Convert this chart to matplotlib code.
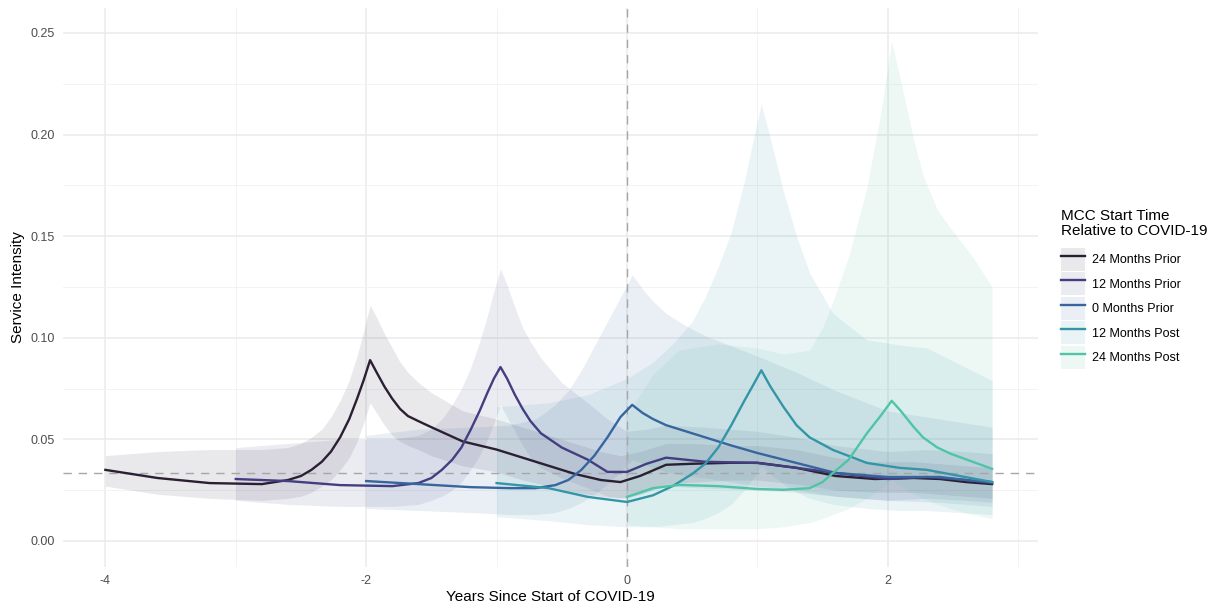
import matplotlib.pyplot as plt
from matplotlib.lines import Line2D
from matplotlib.patches import Patch
import numpy as np

plt.rcParams["font.family"] = ["Liberation Sans", "DejaVu Sans"]
plt.rcParams["axes.unicode_minus"] = False

labels = ["24 Months Prior", "12 Months Prior", "0 Months Prior",
          "12 Months Post", "24 Months Post"]
colors = ["#2b1f33", "#433e80", "#37669e", "#3495a7", "#4fc4a6"]

# 24 Months Prior
x_24pre = [-4.0, -3.6, -3.2, -2.8, -2.6, -2.5, -2.42, -2.34, -2.27, -2.2, -2.13, -2.07, -2.02, -1.97,
           -1.92, -1.86, -1.8, -1.74, -1.68, -1.6, -1.5, -1.26, -1.0, -0.8, -0.6, -0.4, -0.2, -0.05,
           0.1, 0.3, 0.5, 0.8, 1.0, 1.3, 1.6, 1.9, 2.2, 2.4, 2.6, 2.8]
y_24pre = [0.035, 0.031, 0.0285, 0.028, 0.030, 0.032, 0.035, 0.039, 0.044, 0.051, 0.060, 0.070, 0.079, 0.089,
           0.083, 0.076, 0.070, 0.065, 0.0615, 0.059, 0.056, 0.049, 0.045, 0.041, 0.037, 0.033, 0.030, 0.029,
           0.032, 0.0375, 0.038, 0.0385, 0.0385, 0.036, 0.032, 0.0305, 0.031, 0.0305, 0.029, 0.028]
hi_24pre = [0.042, 0.044, 0.045, 0.045, 0.046, 0.048, 0.051, 0.055, 0.061, 0.069, 0.079, 0.091, 0.103, 0.116,
            0.110, 0.102, 0.095, 0.088, 0.083, 0.078, 0.073, 0.064, 0.060, 0.056, 0.052, 0.048, 0.044, 0.042,
            0.044, 0.048, 0.048, 0.047, 0.047, 0.045, 0.041, 0.039, 0.039, 0.038, 0.037, 0.036]
lo_24pre = [0.027, 0.023, 0.021, 0.020, 0.021, 0.022, 0.024, 0.027, 0.030, 0.035, 0.041, 0.049, 0.058, 0.068,
            0.063, 0.057, 0.052, 0.049, 0.047, 0.045, 0.042, 0.037, 0.034, 0.030, 0.027, 0.024, 0.022, 0.021,
            0.023, 0.028, 0.029, 0.030, 0.030, 0.028, 0.025, 0.024, 0.024, 0.023, 0.022, 0.021]

# 12 Months Prior
x_12pre = [-3.0, -2.6, -2.2, -1.8, -1.6, -1.5, -1.42, -1.34, -1.27, -1.2, -1.13, -1.07, -1.02, -0.97,
           -0.92, -0.86, -0.8, -0.74, -0.66, -0.5, -0.3, -0.15, 0.0, 0.15, 0.3, 0.6, 1.0, 1.3, 1.6,
           2.0, 2.3, 2.6, 2.8]
y_12pre = [0.0305, 0.0295, 0.0275, 0.027, 0.0285, 0.031, 0.035, 0.040, 0.046, 0.0546, 0.064, 0.073, 0.080, 0.0856,
           0.080, 0.072, 0.065, 0.059, 0.053, 0.046, 0.040, 0.034, 0.034, 0.038, 0.041, 0.039, 0.0384, 0.036, 0.0335,
           0.0305, 0.0315, 0.030, 0.0285]
hi_12pre = [0.046, 0.048, 0.050, 0.050, 0.052, 0.055, 0.060, 0.067, 0.075, 0.085, 0.098, 0.111, 0.123, 0.134,
            0.126, 0.115, 0.105, 0.098, 0.090, 0.078, 0.068, 0.060, 0.054, 0.055, 0.057, 0.056, 0.054, 0.051, 0.047,
            0.044, 0.045, 0.044, 0.043]
lo_12pre = [0.020, 0.018, 0.017, 0.017, 0.018, 0.020, 0.022, 0.025, 0.029, 0.035, 0.042, 0.050, 0.058, 0.067,
            0.061, 0.054, 0.047, 0.041, 0.036, 0.031, 0.026, 0.022, 0.021, 0.024, 0.027, 0.026, 0.025, 0.024, 0.022,
            0.020, 0.021, 0.020, 0.019]

# 0 Months Prior
x_0pre = [-2.0, -1.6, -1.2, -0.9, -0.7, -0.55, -0.45, -0.35, -0.25, -0.15, -0.05, 0.04,
          0.12, 0.2, 0.3, 0.45, 0.6, 0.8, 1.0, 1.3, 1.6, 2.0, 2.4, 2.6, 2.8]
y_0pre = [0.0295, 0.028, 0.0265, 0.026, 0.026, 0.0275, 0.030, 0.035, 0.042, 0.051, 0.061, 0.067,
          0.063, 0.060, 0.057, 0.054, 0.051, 0.047, 0.0433, 0.0384, 0.0335, 0.0315, 0.0315, 0.030, 0.029]
hi_0pre = [0.052, 0.055, 0.056, 0.057, 0.060, 0.067, 0.074, 0.084, 0.096, 0.108, 0.120, 0.131,
           0.124, 0.118, 0.112, 0.106, 0.101, 0.096, 0.091, 0.083, 0.074, 0.064, 0.060, 0.058, 0.056]
lo_0pre = [0.016, 0.015, 0.014, 0.013, 0.013, 0.014, 0.016, 0.019, 0.023, 0.028, 0.034, 0.040,
           0.038, 0.036, 0.034, 0.032, 0.031, 0.029, 0.027, 0.025, 0.022, 0.020, 0.019, 0.018, 0.017]

# 12 Months Post
x_12post = [-1.0, -0.6, -0.3, 0.0, 0.2, 0.35, 0.5, 0.6, 0.7, 0.8, 0.9, 0.97, 1.03,
            1.1, 1.2, 1.3, 1.4, 1.58, 1.84, 2.09, 2.3, 2.55, 2.8]
y_12post = [0.0285, 0.026, 0.0217, 0.0192, 0.0225, 0.027, 0.033, 0.038, 0.046, 0.057, 0.069, 0.077, 0.084,
            0.076, 0.066, 0.057, 0.051, 0.0448, 0.0384, 0.036, 0.035, 0.032, 0.029]
hi_12post = [0.066, 0.068, 0.072, 0.080, 0.088, 0.097, 0.108, 0.120, 0.135, 0.152, 0.177, 0.198, 0.215,
             0.198, 0.172, 0.150, 0.132, 0.112, 0.099, 0.0965, 0.095, 0.087, 0.079]
lo_12post = [0.012, 0.010, 0.008, 0.007, 0.007, 0.008, 0.009, 0.011, 0.014, 0.018, 0.025, 0.031, 0.037,
             0.033, 0.028, 0.024, 0.021, 0.018, 0.016, 0.015, 0.015, 0.014, 0.013]

# 24 Months Post
x_24post = [0.0, 0.2, 0.4, 0.7, 1.0, 1.2, 1.4, 1.5, 1.58, 1.7, 1.84, 1.95, 2.03,
            2.1, 2.2, 2.27, 2.38, 2.48, 2.65, 2.8]
y_24post = [0.0217, 0.026, 0.0276, 0.027, 0.0256, 0.0252, 0.026, 0.029, 0.0335, 0.040, 0.053, 0.062, 0.069,
            0.064, 0.056, 0.051, 0.046, 0.043, 0.039, 0.0355]
hi_24post = [0.062, 0.082, 0.094, 0.097, 0.095, 0.092, 0.094, 0.105, 0.118, 0.140, 0.174, 0.212, 0.246,
             0.226, 0.197, 0.180, 0.163, 0.154, 0.140, 0.125]
lo_24post = [0.008, 0.007, 0.006, 0.006, 0.006, 0.007, 0.009, 0.011, 0.013, 0.016, 0.021, 0.026, 0.030,
             0.027, 0.023, 0.021, 0.018, 0.016, 0.013, 0.011]

ref_level = 0.0335

series = [
    (x_24pre, y_24pre, lo_24pre, hi_24pre),
    (x_12pre, y_12pre, lo_12pre, hi_12pre),
    (x_0pre, y_0pre, lo_0pre, hi_0pre),
    (x_12post, y_12post, lo_12post, hi_12post),
    (x_24post, y_24post, lo_24post, hi_24post),
]

fig = plt.figure(figsize=(12.13, 6.04), dpi=100)
ax = fig.add_axes([63 / 1213, 37 / 604, 975 / 1213, 559 / 604])

# ribbons first, then the reference lines, then the lines on top
for (x, y, lo, hi), c in zip(series, colors):
    ax.fill_between(x, lo, hi, color=c, alpha=0.1, linewidth=0, zorder=2)

ax.axhline(ref_level, color="#a6a6a6", lw=1.0, ls=(0, (6, 5)), zorder=3)
ax.axvline(0, color="#a6a6a6", lw=1.0, ls=(0, (6, 5)), zorder=3)

for (x, y, lo, hi), c in zip(series, colors):
    ax.plot(x, y, color=c, lw=1.7, zorder=4)

ax.set_xlim(-4.325, 3.152)
ax.set_ylim(-0.0128, 0.2623)
ax.set_xticks([-4, -2, 0, 2])
ax.set_xticks([-3, -1, 1, 3], minor=True)
ax.set_yticks(np.arange(0, 0.26, 0.05))
ax.set_yticks(np.arange(0.025, 0.26, 0.05), minor=True)
ax.set_yticklabels(["0.00", "0.05", "0.10", "0.15", "0.20", "0.25"])
ax.grid(which="major", color="#ebebeb", lw=1.1, zorder=0)
ax.grid(which="minor", color="#f1f1f1", lw=0.6, zorder=0)
ax.set_axisbelow(True)
for s in ax.spines.values():
    s.set_visible(False)
ax.tick_params(which="both", length=0, labelsize=9, labelcolor="#4d4d4d", pad=6)

ax.set_xlabel("Years Since Start of COVID-19", fontsize=11, labelpad=2)
ax.set_ylabel("Service Intensity", fontsize=11, labelpad=4)

# legend: title as separate text so the gap to the keys matches
fig.text(1061 / 1213, 1 - 209 / 604, "MCC Start Time\nRelative to COVID-19",
         ha="left", va="top", fontsize=11, linespacing=1.1)

handles = [(Patch(facecolor=c, alpha=0.1, edgecolor="none"),
            Line2D([], [], color=c, lw=1.7)) for c in colors]
leg = fig.legend(handles, labels,
                 loc="upper left", bbox_to_anchor=(1061 / 1213, 1 - 248 / 604),
                 frameon=False, fontsize=9, handlelength=1.9, handleheight=2.45,
                 labelspacing=0.12, handletextpad=0.6, borderpad=0, borderaxespad=0)

fig.savefig("out.png", dpi=100, facecolor="white")
